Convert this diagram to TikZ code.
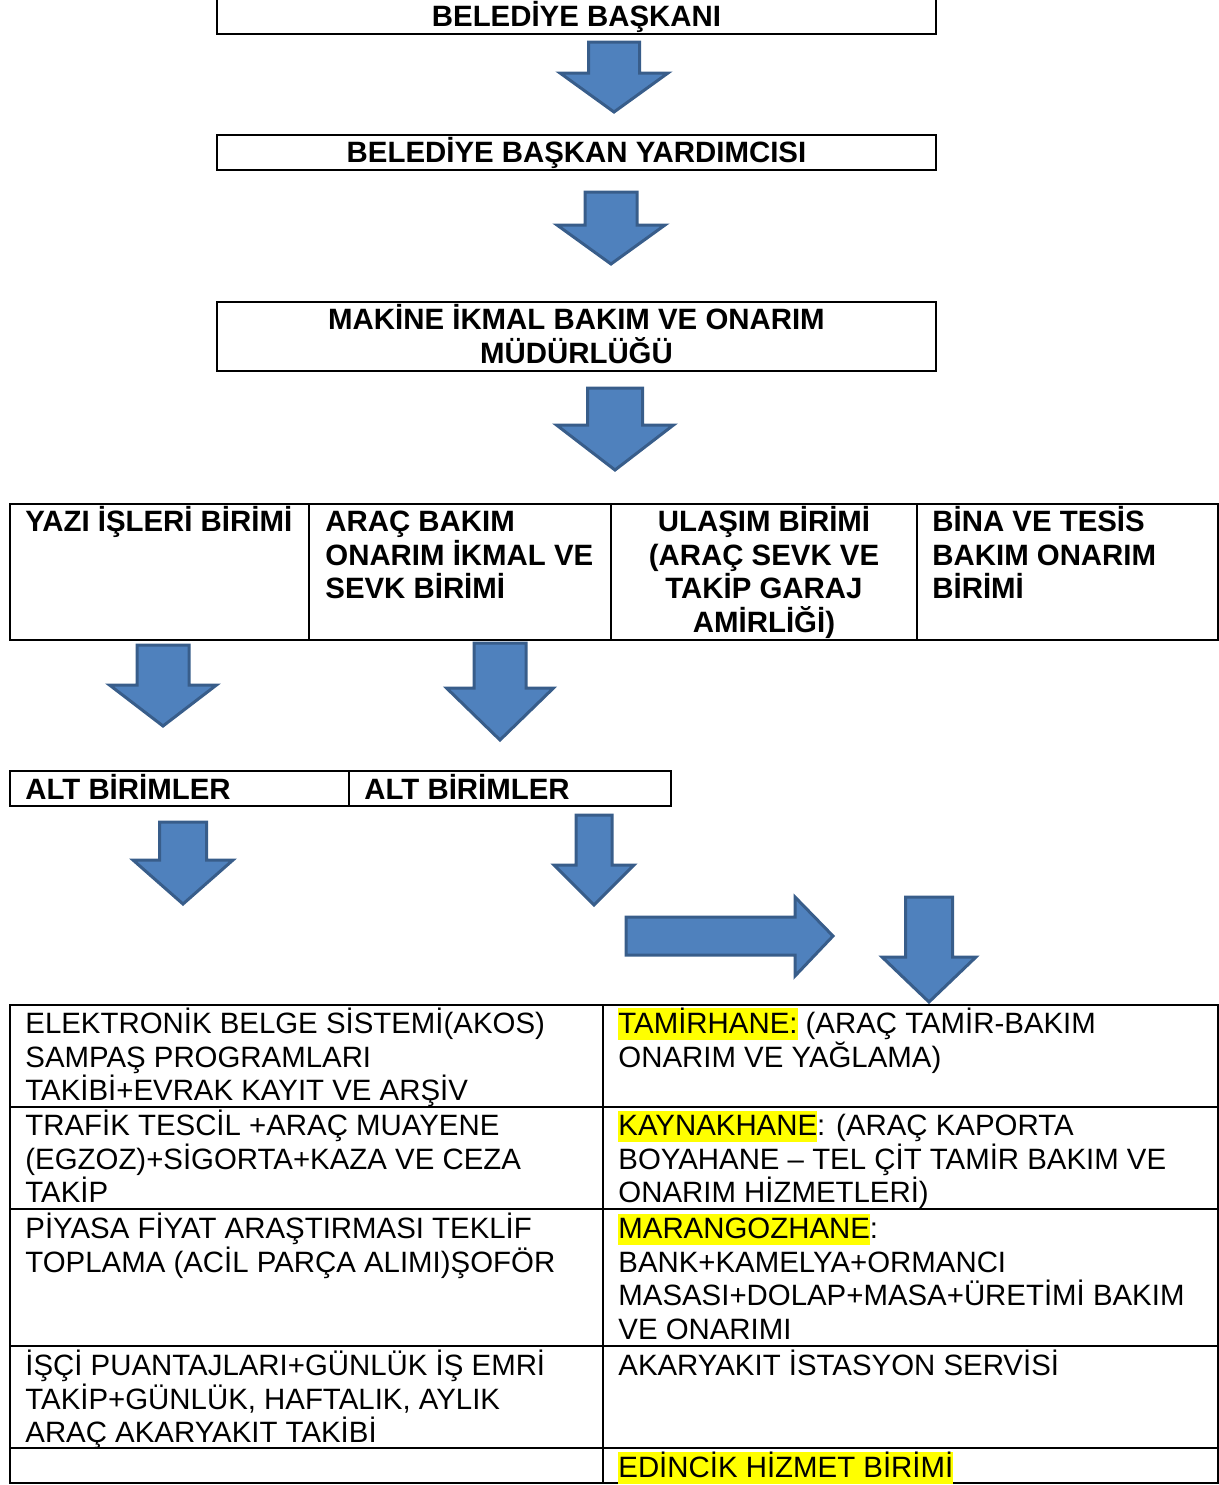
\documentclass[tikz,border=0pt]{standalone}
\usepackage{fontspec}
\setmainfont{Liberation Sans}
\definecolor{arrowfill}{HTML}{4F81BD}
\definecolor{arrowline}{HTML}{385D8A}
\definecolor{hlyellow}{HTML}{FFFF00}
\newcommand\fs{\fontsize{14.7pt}{16.75pt}\selectfont}
\newcommand\fl{\vrule height 1em depth 0pt width 0pt\relax}
\newcommand\hlt[1]{{\fboxsep=0pt\colorbox{hlyellow}{\vrule height 0.86em depth 0.21em width 0pt\relax #1}}}
\newcommand\blockdown[6]{% cx, half shaft, half head, top, head start, tip
  \path[blk] (#1-#2,#4) -- (#1+#2,#4) -- (#1+#2,#5) -- (#1+#3,#5) -- (#1,#6)
    -- (#1-#3,#5) -- (#1-#2,#5) -- cycle;}
\tikzset{
  blk/.style={fill=arrowfill, draw=arrowline, line width=1.5pt, line join=miter},
  frame/.style={draw=black, line width=1.2pt, rectangle, inner sep=0pt},
  txt/.style={anchor=north west, inner sep=0pt, align=left, font=\fs},
  ctr/.style={anchor=north, inner sep=0pt, align=center, font=\fs\bfseries},
  grid/.style={draw=black, line width=1.3pt},
}
\begin{document}
\begin{tikzpicture}[x=0.5pt,y=-0.5pt]
\useasboundingbox (0,0) rectangle (1219,1485);

% top boxes
\node[frame, minimum width=359.5pt, minimum height=27pt] (b1) at (576.5,7) {};
\node[ctr] (t1) at (576.5,-3) {\fl BELEDİYE BAŞKANI};
\node[frame, minimum width=359.5pt, minimum height=17.5pt] (b2) at (576.5,152.5) {};
\node[ctr] (t2) at (576.5,133) {\fl BELEDİYE BAŞKAN YARDIMCISI};
\node[frame, minimum width=359.5pt, minimum height=34.5pt] (b3) at (576.5,336.5) {};
\node[ctr] (t3) at (576.5,300) {\fl MAKİNE İKMAL BAKIM VE ONARIM\\MÜDÜRLÜĞÜ};

% arrows
\blockdown{614}{25.5}{54}{42}{73}{112}
\blockdown{611}{26}{54}{192}{225}{264}
\blockdown{615}{27.5}{58.5}{388}{425}{470}

% row of units
\draw[grid] (10,504) rectangle (1218,640);
\draw[grid] (309,504) -- (309,640);
\draw[grid] (611,504) -- (611,640);
\draw[grid] (917,504) -- (917,640);
\node[txt, font=\fs\bfseries] (u1) at (25,502) {\fl YAZI İŞLERİ BİRİMİ};
\node[txt, font=\fs\bfseries] (u2) at (325,502) {\fl ARAÇ BAKIM\\ONARIM İKMAL VE\\SEVK BİRİMİ};
\node[ctr] (u3) at (764,502) {\fl ULAŞIM BİRİMİ\\(ARAÇ SEVK VE\\TAKİP GARAJ\\AMİRLİĞİ)};
\node[txt, font=\fs\bfseries] (u4) at (932,502) {\fl BİNA VE TESİS\\BAKIM ONARIM\\BİRİMİ};

\blockdown{163}{26}{53.5}{645}{685}{726}
\blockdown{500}{26}{53.5}{643}{688}{740}

% alt birimler
\draw[grid] (10,771) rectangle (671,806);
\draw[grid] (349,771) -- (349,806);
\node[txt, font=\fs\bfseries] (a1) at (25,770) {\fl ALT BİRİMLER};
\node[txt, font=\fs\bfseries] (a2) at (364,770) {\fl ALT BİRİMLER};

\blockdown{183}{23.5}{50}{822}{860}{904}
\blockdown{594}{18}{40}{815}{865}{905}
\path[blk] (626,917) -- (795,917) -- (795,897) -- (833,936) -- (795,976) -- (795,955) -- (626,955) -- cycle;
\blockdown{929}{23.5}{47}{897}{957}{1002}

% table
\draw[grid] (10,1005) rectangle (1218,1483);
\draw[grid] (603,1005) -- (603,1483);
\foreach \yy in {1107,1209,1346,1448} \draw[grid] (10,\yy) -- (1218,\yy);

\node[txt] (l1) at (25,1004) {\fl ELEKTRONİK BELGE SİSTEMİ(AKOS)\\SAMPAŞ PROGRAMLARI\\TAKİBİ+EVRAK KAYIT VE ARŞİV};
\node[txt] (r1) at (618,1004) {\fl \hlt{TAMİRHANE:} (ARAÇ TAMİR-BAKIM\\ONARIM VE YAĞLAMA)};
\node[txt] (l2) at (25,1106) {\fl TRAFİK TESCİL +ARAÇ MUAYENE\\(EGZOZ)+SİGORTA+KAZA VE CEZA\\TAKİP};
\node[txt] (r2) at (618,1106) {\fl \hlt{KAYNAKHANE}: (ARAÇ KAPORTA\\BOYAHANE – TEL ÇİT TAMİR BAKIM VE\\ONARIM HİZMETLERİ)};
\node[txt] (l3) at (25,1209) {\fl PİYASA FİYAT ARAŞTIRMASI TEKLİF\\TOPLAMA (ACİL PARÇA ALIMI)ŞOFÖR};
\node[txt] (r3) at (618,1209) {\fl \hlt{MARANGOZHANE}:\\BANK+KAMELYA+ORMANCI\\MASASI+DOLAP+MASA+ÜRETİMİ BAKIM\\VE ONARIMI};
\node[txt] (l4) at (25,1346) {\fl İŞÇİ PUANTAJLARI+GÜNLÜK İŞ EMRİ\\TAKİP+GÜNLÜK, HAFTALIK, AYLIK\\ARAÇ AKARYAKIT TAKİBİ};
\node[txt] (r4) at (618,1346) {\fl AKARYAKIT İSTASYON SERVİSİ};
\node[txt] (r5) at (618,1448) {\fl \hlt{EDİNCİK HİZMET BİRİMİ}};
\end{tikzpicture}
\end{document}
